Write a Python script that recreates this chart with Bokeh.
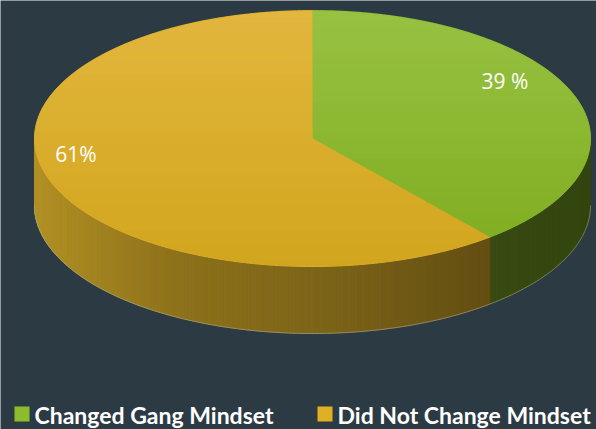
import numpy as np
from bokeh.plotting import figure
from bokeh.models import Range1d, ColumnDataSource
from bokeh.core.properties import value
from bokeh.embed import file_html
from bokeh.resources import INLINE

# ---------------- data ----------------
categories = ["Changed Gang Mindset", "Did Not Change Mindset"]
values = [39, 61]
labels = ["39 %", "61%"]

# ---------------- style ----------------
BG = "#2c3a44"
top_grad = [("#98c344", "#7eab1f"), ("#e3b73f", "#d1a51d")]
side_stops = [
    [(0.0, (52, 70, 15)), (1.0, (60, 78, 20))],
    [(0.0, (84, 64, 14)), (0.45, (122, 98, 24)), (0.75, (142, 114, 27)), (1.0, (178, 145, 37))],
]
legend_colors = ["#8dbb2e", "#dfb022"]
CX, CY, RX, RY, DEPTH = 312.0, 138.0, 278.0, 128.0, 67.0
W, H = 596, 429

fr = np.array(values, float) / np.sum(values)
cum = np.concatenate([[0.0], np.cumsum(fr)])


def pt(u, dy=0.0):
    t = np.radians(90.0 - 360.0 * np.asarray(u))
    return CX + RX * np.cos(t), CY - RY * np.sin(t) + dy


def hex_of(rgb):
    return "#%02x%02x%02x" % tuple(int(round(c)) for c in rgb)


def hex2rgb(h):
    h = h.lstrip("#")
    return np.array([int(h[i:i + 2], 16) for i in (0, 2, 4)], float)


def interp_stops(stops, s):
    s = min(max(s, 0.0), 1.0)
    for (a, ca), (b, cb) in zip(stops[:-1], stops[1:]):
        if a <= s <= b:
            f = 0 if b == a else (s - a) / (b - a)
            return hex_of(np.array(ca) * (1 - f) + np.array(cb) * f)
    return hex_of(stops[-1][1])


p = figure(width=W, height=H, x_range=Range1d(0, W), y_range=Range1d(H, 0),
           output_backend="svg", toolbar_location=None, min_border=0)
p.axis.visible = False
p.grid.visible = False
p.outline_line_color = None
p.background_fill_color = BG
p.border_fill_color = BG

# ---------------- side (front half) ----------------
sx, sy, sc = [], [], []
for i in range(len(values)):
    a, b = max(cum[i], 0.25), min(cum[i + 1], 0.75)
    if b <= a:
        continue
    n = max(2, int((b - a) / 0.002))
    us = np.linspace(a, b, n + 1)
    for k in range(n):
        u0, u1 = us[k], us[k + 1]
        x0, y0 = pt(u0)
        x1, y1 = pt(u1)
        xm = 0.5 * (x0 + x1)
        s = 1 - (xm - (CX - RX)) / (2 * RX)  # 0 at right, 1 at left
        sx.append([x0, x1, x1, x0])
        sy.append([y0, y1, y1 + DEPTH, y0 + DEPTH])
        if i == 0:
            col = interp_stops(side_stops[0], s / 0.3)
        else:
            col = interp_stops(side_stops[1], s)
        sc.append(col)
p.patches(xs=sx, ys=sy, fill_color=sc, line_color=sc, line_width=1)

# bottom rim highlight
ub = np.linspace(0.25, 0.75, 200)
bx, by = pt(ub, DEPTH)
p.line(bx, by, line_color="#a9ad98", line_alpha=0.55, line_width=1)

# ---------------- top face ----------------
px, py, pc = [], [], []
for i in range(len(values)):
    us = np.linspace(cum[i], cum[i + 1], 200)
    ax, ay = pt(us)
    px.append(np.concatenate([[CX], ax]).tolist())
    py.append(np.concatenate([[CY], ay]).tolist())
    c = (hex2rgb(top_grad[i][0]) + hex2rgb(top_grad[i][1])) / 2
    pc.append(hex_of(c))
p.patches(xs=px, ys=py, fill_color=pc, line_color=pc, line_width=1)

ql, qr, qt, qb, qc = [], [], [], [], []
N = 1400
for yy in np.arange(CY - RY, CY + RY, 1.0):
    y0, y1 = yy, yy + 1.0
    dn = max(abs(y0 - CY), abs(y1 - CY)) / RY
    if dn >= 1:
        continue
    w = np.sqrt(1 - dn * dn)
    dyn = (CY - 0.5 * (y0 + y1)) / RY
    xs = np.linspace(-w, w, N)
    t = np.degrees(np.arctan2(dyn, xs))
    u = ((90.0 - t) % 360.0) / 360.0
    idx = np.clip(np.searchsorted(cum[1:-1], u, side="right"), 0, len(values) - 1)
    g = ((0.5 * (y0 + y1)) - (CY - RY)) / (2 * RY)
    start = 0
    for k in range(1, N + 1):
        if k == N or idx[k] != idx[start]:
            si = idx[start]
            c = hex2rgb(top_grad[si][0]) * (1 - g) + hex2rgb(top_grad[si][1]) * g
            ql.append(CX + RX * xs[start])
            qr.append(CX + RX * xs[k - 1])
            qt.append(y0 - 0.3)
            qb.append(y1 + 0.3)
            qc.append(hex_of(c))
            start = k
p.quad(left=ql, right=qr, top=qt, bottom=qb, fill_color=qc, line_color=None)

# ---------------- data labels ----------------
mid = (cum[:-1] + cum[1:]) / 2
lx, ly = pt(mid)
lx = CX + (lx - CX) * 0.82 - 22
ly = CY + (ly - CY) * 0.85 - 21
lsrc = ColumnDataSource(dict(x=lx, y=ly, t=labels))
p.text(x="x", y="y", text="t", source=lsrc, text_color="white",
       text_font=value("Open Sans"), text_font_size="21px",
       text_align="center", text_baseline="middle")

# ---------------- legend ----------------
leg_x = [14, 317]
LEG_Y = 421
for i, name in enumerate(categories):
    p.quad(left=[leg_x[i]], right=[leg_x[i] + 15], top=[LEG_Y - 15], bottom=[LEG_Y],
           fill_color=legend_colors[i], line_color=None)
    p.text(x=[leg_x[i] + 20], y=[LEG_Y - 7], text=[name], text_color="white",
           text_font=value("Lato"), text_font_style="bold", text_font_size="23px",
           text_align="left", text_baseline="middle")

open("out.html", "w").write(file_html(p, INLINE))
